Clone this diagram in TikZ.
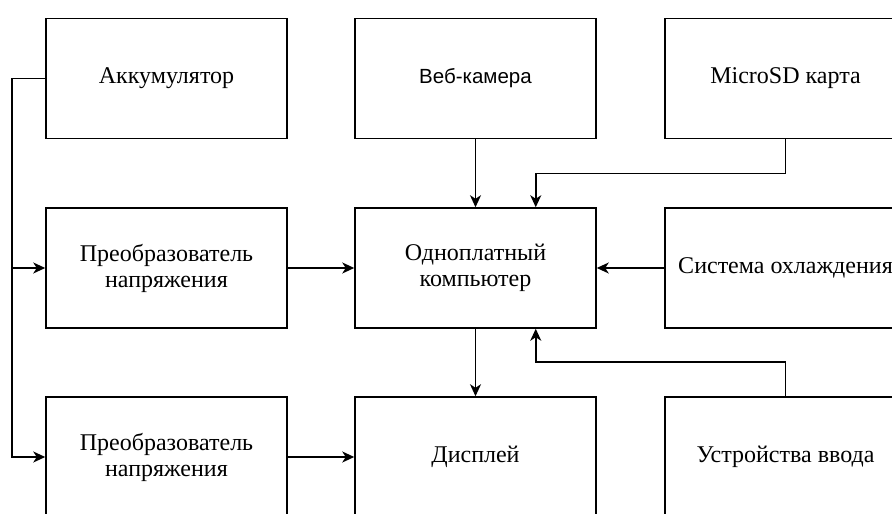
\documentclass[tikz,border=0pt]{standalone}
\usepackage{fontspec}
\setmainfont{Liberation Serif}
\newfontfamily\camfont{Liberation Sans}
\usetikzlibrary{arrows.meta}
\tikzset{
  block/.style={draw, line width=1.5bp, minimum width=241bp, minimum height=120bp,
    inner sep=0pt, align=center, font=\fontsize{24bp}{26bp}\selectfont},
  link/.style={line width=1.5bp},
  arr/.style={link, -{Stealth[length=12bp,width=11bp,inset=3.5bp]}}
}
\begin{document}
\begin{tikzpicture}[x=1bp,y=-1bp]
\useasboundingbox (0,0) rectangle (892,514);
\clip (0,0) rectangle (892,514);
% blocks
\node[block] (acc)  at (166.5,78.5) {Аккумулятор};
\node[block] (cam)  at (475.5,78.5) {\camfont\fontsize{20.5bp}{26bp}\selectfont Веб-камера};
\node[block] (sd)   at (785.5,78.5) {MicroSD карта};
\node[block] (conv1) at (166.5,268) {Преобразователь\\напряжения};
\node[block] (comp) at (475.5,268) {Одноплатный\\компьютер};
\node[block] (cool) at (785.5,268) {Система охлаждения};
\node[block] (conv2) at (166.5,457) {Преобразователь\\напряжения};
\node[block] (disp) at (475.5,457) {Дисплей};
\node[block] (inp)  at (785.5,457) {Устройства ввода};
% power bus
\coordinate (bus) at (12,268);
\draw[link] (acc.west) -| (bus);
\draw[arr] (bus) -- (conv1.west);
\draw[arr] (bus) |- (conv2.west);
\draw[arr] (conv1) -- (comp);
\draw[arr] (conv2) -- (disp);
% signals to and from the computer
\draw[arr] (cam) -- (comp);
\draw[arr] (sd.south) -- ++(0,34.5) -| ([xshift=60.25bp]comp.north);
\draw[arr] (cool) -- (comp);
\draw[arr] (comp) -- (disp);
\draw[arr] (inp.north) -- ++(0,-34) -| ([xshift=60.25bp]comp.south);
\end{tikzpicture}
\end{document}
